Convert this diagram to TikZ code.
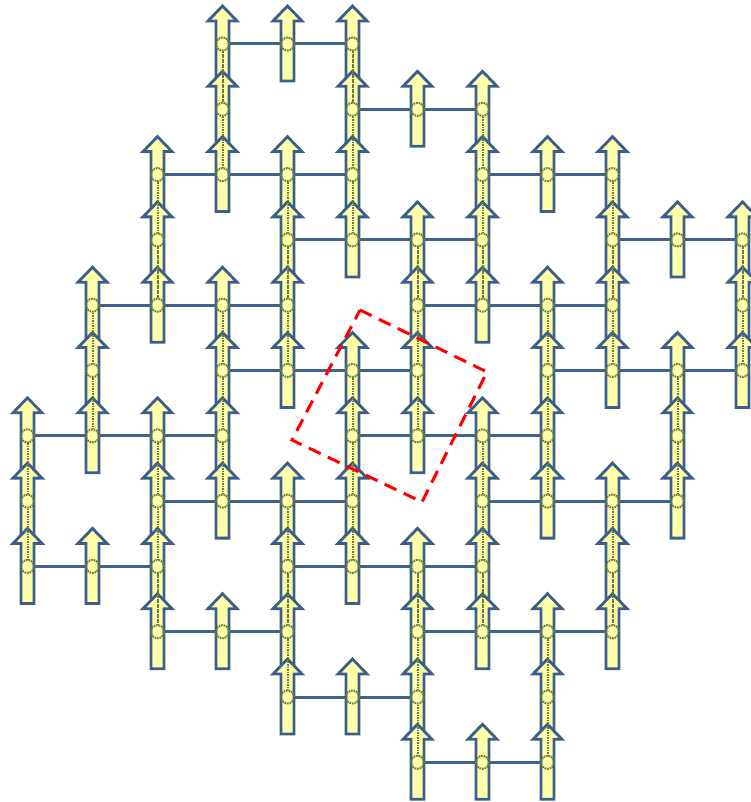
\documentclass[tikz,border=0pt]{standalone}
\pgfdeclarelayer{bondlayer}
\pgfdeclarelayer{arrowlayer}
\pgfsetlayers{bondlayer,arrowlayer,main}
\definecolor{spinblue}{HTML}{3B5E8C}
\definecolor{spinfill}{HTML}{FFFFAA}
\definecolor{siteolive}{HTML}{6A7A3A}
\definecolor{bondblue}{HTML}{3F6391}
\tikzset{
  site/.style={circle, draw=siteolive, dash pattern=on 1.6pt off 0.9pt, line width=2pt, minimum size=13pt, inner sep=0pt},
  spinarrow/.style={draw=spinblue, fill=spinfill, line width=2.8pt, line join=miter},
  bond/.style={draw=bondblue, line width=3pt},
  vlink/.style={draw=siteolive, dash pattern=on 1.6pt off 0.9pt, line width=2pt},
  region/.style={draw=red, line width=3pt, dash pattern=on 13pt off 8pt}
}
\def\sitelist{0/{6,7,8}, 1/{4,5,6,8}, 2/{2,3,4,6,7,8,9}, 3/{0,1,2,4,5,6,7,9}, 4/{0,2,3,4,5,7,8,9,10}, 5/{0,1,2,3,5,6,7,8,10}, 6/{1,3,4,5,6,8,9,10,11}, 7/{1,2,3,4,6,7,8,9,11}, 8/{2,4,5,6,7,9,10,11}, 9/{2,3,4,5,7,8,9}, 10/{3,5,6,7}, 11/{3,4,5}}
\begin{document}
\begin{tikzpicture}[x=1pt,y=-1pt]
\clip (0,0) rectangle (751,802);
\useasboundingbox (0,0) rectangle (751,802);
% sites
\foreach \c/\rows in \sitelist {
  \foreach \r in \rows {
    \node[site] (s-\c-\r) at ({27.5+65*\c},{44+65.3*\r}) {};
  }
}
% spin arrows
\begin{pgfonlayer}{arrowlayer}
\foreach \c/\rows in \sitelist {
  \foreach \r in \rows {
    \begin{scope}[shift={(s-\c-\r.center)}]
      \path[spinarrow] (-6.5,37) -- (-6.5,-23) -- (-14.5,-23) -- (0,-38) -- (14.5,-23) -- (6.5,-23) -- (6.5,37) -- cycle;
    \end{scope}
  }
}
\end{pgfonlayer}
% horizontal bonds
\begin{pgfonlayer}{bondlayer}
\foreach \r/\a/\b in {0/3/5, 1/5/7, 2/2/5, 2/7/9, 3/4/7, 3/9/11, 4/1/4, 4/6/9, 5/3/6, 5/8/11, 6/0/3, 6/5/8, 7/2/5, 7/7/10, 8/0/2, 8/4/7, 9/2/4, 9/6/9, 10/4/6, 11/6/8}
  \draw[bond] (s-\a-\r.center) -- (s-\b-\r.center);
\end{pgfonlayer}
% vertical links
\foreach \c/\a/\b in {0/6/7, 0/7/8, 1/4/5, 1/5/6, 2/2/3, 2/3/4, 2/6/7, 2/7/8, 2/8/9, 3/0/1, 3/1/2, 3/4/5, 3/5/6, 3/6/7, 4/2/3, 4/3/4, 4/4/5, 4/7/8, 4/8/9, 4/9/10, 5/0/1, 5/1/2, 5/2/3, 5/5/6, 5/6/7, 5/7/8, 6/3/4, 6/4/5, 6/5/6, 6/8/9, 6/9/10, 6/10/11, 7/1/2, 7/2/3, 7/3/4, 7/6/7, 7/7/8, 7/8/9, 8/4/5, 8/5/6, 8/6/7, 8/9/10, 8/10/11, 9/2/3, 9/3/4, 9/4/5, 9/7/8, 9/8/9, 10/5/6, 10/6/7, 11/3/4, 11/4/5}
  \draw[vlink] (s-\c-\a) -- (s-\c-\b);
% dashed region
\draw[region] (360,310) -- (487,372) -- (422,502) -- (292,440) -- cycle;
\end{tikzpicture}
\end{document}
